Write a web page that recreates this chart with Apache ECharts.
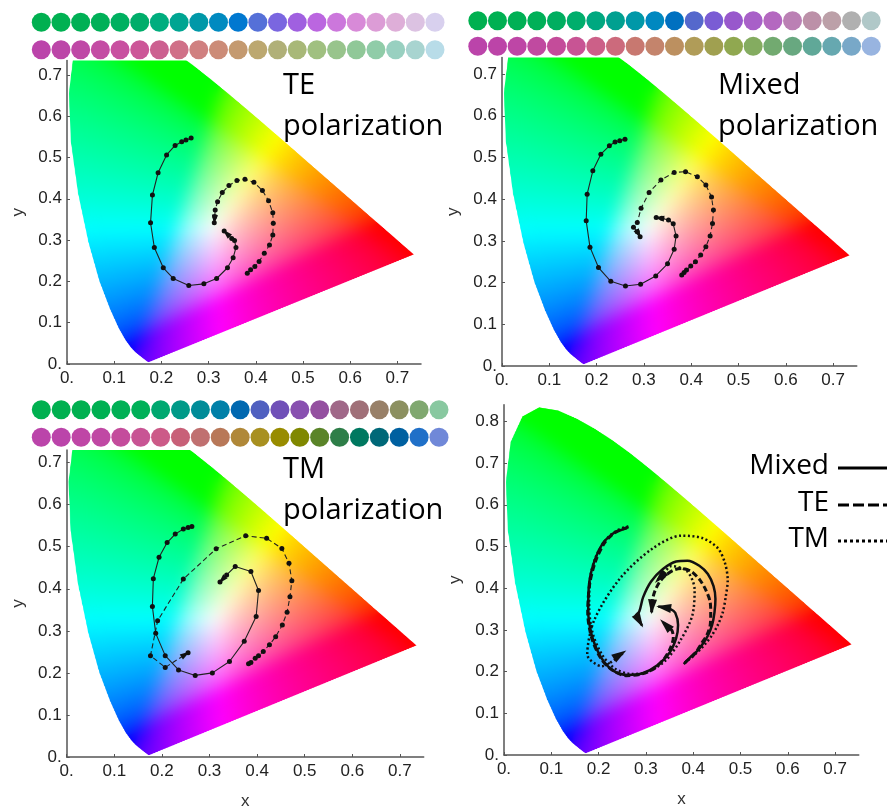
<!DOCTYPE html>
<html><head><meta charset="utf-8">
<script src="https://cdn.jsdelivr.net/npm/echarts@6/dist/echarts.min.js"></script>
<style>html,body{margin:0;padding:0;background:#fff}#c{width:891px;height:811px}</style>
</head><body><div id="c"></div>
<script>
// CIE 1931 2-degree spectral locus (x, y), 380-700 nm
const spectralLocus = [
[0.1741,0.0050],[0.1740,0.0050],[0.1738,0.0049],[0.1736,0.0049],[0.1733,0.0048],[0.1730,0.0048],
[0.1726,0.0048],[0.1721,0.0048],[0.1714,0.0051],[0.1703,0.0058],[0.1689,0.0069],[0.1669,0.0086],
[0.1644,0.0109],[0.1611,0.0138],[0.1566,0.0177],[0.1510,0.0227],[0.1440,0.0297],[0.1355,0.0399],
[0.1241,0.0578],[0.1096,0.0868],[0.0913,0.1327],[0.0687,0.2007],[0.0454,0.2950],[0.0235,0.4127],
[0.0082,0.5384],[0.0039,0.6548],[0.0139,0.7502],[0.0389,0.8120],[0.0743,0.8338],[0.1142,0.8262],
[0.1547,0.8059],[0.1929,0.7816],[0.2296,0.7543],[0.2658,0.7243],[0.3016,0.6923],[0.3373,0.6589],
[0.3731,0.6245],[0.4087,0.5896],[0.4441,0.5547],[0.4788,0.5202],[0.5125,0.4866],[0.5448,0.4544],
[0.5752,0.4242],[0.6029,0.3965],[0.6270,0.3725],[0.6482,0.3514],[0.6658,0.3340],[0.6801,0.3197],
[0.6915,0.3083],[0.7006,0.2993],[0.7079,0.2920],[0.7140,0.2859],[0.7190,0.2809],[0.7230,0.2770],
[0.7260,0.2740],[0.7300,0.2700],[0.7334,0.2666],[0.7347,0.2653]
];

// TE polarization
const teSolid = [[0.263,0.547],[0.252,0.542],[0.243,0.538],[0.229,0.529],[0.211,0.506],[0.193,0.463],[0.181,0.409],[0.177,0.342],[0.185,0.282],[0.204,0.233],[0.225,0.207],[0.258,0.190],[0.290,0.194],[0.317,0.207],[0.340,0.233],[0.352,0.257],[0.358,0.282],[0.355,0.299],[0.349,0.304],[0.333,0.322]];
const teDashed = [[0.382,0.220],[0.389,0.228],[0.398,0.236],[0.407,0.248],[0.418,0.268],[0.429,0.288],[0.436,0.312],[0.437,0.341],[0.436,0.366],[0.427,0.395],[0.414,0.420],[0.396,0.440],[0.377,0.447],[0.360,0.444],[0.343,0.432],[0.329,0.415],[0.319,0.393],[0.314,0.373],[0.313,0.357],[0.312,0.342]];
// Mixed polarization
const mixedSolid = [[0.260,0.544],[0.249,0.540],[0.239,0.537],[0.227,0.528],[0.209,0.508],[0.192,0.468],[0.180,0.412],[0.178,0.348],[0.186,0.285],[0.204,0.236],[0.230,0.203],[0.261,0.192],[0.293,0.196],[0.325,0.216],[0.350,0.245],[0.364,0.280],[0.368,0.312],[0.362,0.341],[0.352,0.350],[0.338,0.354],[0.326,0.356]];
const mixedDashed = [[0.380,0.218],[0.385,0.224],[0.390,0.230],[0.399,0.240],[0.409,0.250],[0.420,0.266],[0.431,0.286],[0.440,0.312],[0.445,0.342],[0.447,0.374],[0.443,0.405],[0.431,0.434],[0.413,0.454],[0.388,0.466],[0.364,0.464],[0.336,0.446],[0.311,0.416],[0.294,0.378],[0.286,0.344],[0.278,0.333],[0.286,0.322],[0.292,0.310]];
// TM polarization
const tmSolid = [[0.263,0.548],[0.255,0.546],[0.245,0.542],[0.228,0.530],[0.211,0.510],[0.194,0.475],[0.182,0.424],[0.180,0.358],[0.187,0.294],[0.207,0.241],[0.235,0.207],[0.270,0.194],[0.306,0.200],[0.342,0.227],[0.373,0.275],[0.398,0.334],[0.403,0.396],[0.387,0.441],[0.354,0.453],[0.336,0.433],[0.322,0.416]];
const tmDashed = [[0.382,0.222],[0.387,0.225],[0.396,0.235],[0.403,0.241],[0.413,0.251],[0.426,0.267],[0.439,0.286],[0.453,0.314],[0.463,0.344],[0.469,0.381],[0.473,0.419],[0.467,0.461],[0.452,0.496],[0.420,0.520],[0.376,0.526],[0.314,0.495],[0.245,0.423],[0.191,0.324],[0.176,0.241],[0.207,0.213],[0.255,0.248]];

// Colour swatches
const swatchTE1 = ['#00b050','#00b152','#00b055','#00b058','#00b060','#00ad6a','#00ad7e','#00a592','#0098a8','#008ac0','#0078d0','#5570d8','#7a66e0','#a060e0','#bb66e0','#cc77dc','#d88ad8','#dc9cd6','#deaed8','#dcc2e2','#d8d0ee'];
const swatchTE2 = ['#bb44aa','#bc46a8','#bf48a6','#c44ca4','#c850a0','#cc5698','#cc6090','#d07088','#d08080','#cc8c78','#c49a70','#bca870','#b0b078','#a8b878','#a0c080','#98c48c','#90c898','#90cca8','#98d0c0','#a8d4d0','#b8dce8'];
const swatchMixed1 = ['#00b050','#00b052','#00b055','#00b058','#00ae60','#00ae6c','#00a880','#00a090','#0098a8','#0088c0','#0070c0','#5568cc','#7a5cd4','#9858cc','#a860c8','#b468c0','#bb80b4','#bc90a8','#bca0a8','#b0b0b0','#b0c8c8'];
const swatchMixed2 = ['#bb44aa','#bc44a8','#be46a6','#c04aa0','#c44c9a','#c85494','#cc6088','#cc6a7c','#c87870','#c4846c','#bc9060','#b09c58','#a0a050','#90a850','#84ac60','#72aa70','#68a880','#60a898','#66a8b0','#78a8c8','#98b4e0'];
const swatchTM1 = ['#00b050','#00b050','#00b050','#00b052','#00b055','#00b058','#00a870','#009a88','#008c98','#0080a8','#0068b0','#5060c0','#7050b8','#8850b0','#9450a0','#a06888','#a07078','#988068','#8c9060','#80a870','#88c8a0'];
const swatchTM2 = ['#bb44aa','#bb44aa','#bf46a6','#c048a4','#c44c9c','#c85494','#cc5a88','#c86078','#c07070','#b87858','#b08838','#a89020','#988c00','#808800','#5a8428','#2e7e48','#007860','#006878','#0060a0','#2070c8','#7088d8'];

const panelTitles = ['TE\npolarization','Mixed\npolarization','TM\npolarization'];
const legendNames = ['Mixed','TE','TM'];

// ---- gamut image (colour of each chromaticity) ----
const GX = 0.75, GY = 0.85;
function lin2srgb(c){ return c <= 0.0031308 ? 12.92*c : 1.055*Math.pow(c,1/2.4)-0.055; }
function buildGamut(){
  const W = 600, H = 680;
  const cv = document.createElement('canvas'); cv.width = W; cv.height = H;
  const ctx = cv.getContext('2d'); const img = ctx.createImageData(W,H); const d = img.data;
  const poly = spectralLocus; const n = poly.length;
  for (let j=0;j<H;j++){
    const y = GY*(1-(j+0.5)/H);
    const xs = [];
    for (let k=0;k<n;k++){
      const p = poly[k], q = poly[(k+1)%n];
      if ((p[1] <= y && q[1] > y) || (q[1] <= y && p[1] > y)){
        xs.push(p[0] + (y-p[1])*(q[0]-p[0])/(q[1]-p[1]));
      }
    }
    xs.sort((a,b)=>a-b);
    for (let m=0;m+1<xs.length;m+=2){
      const i0 = Math.max(0, Math.floor(xs[m]/GX*W)-3), i1 = Math.min(W-1, Math.ceil(xs[m+1]/GX*W)+3);
      for (let i=i0;i<=i1;i++){
        const x = GX*(i+0.5)/W;
        const X = x/y, Y = 1, Z = (1-x-y)/y;
        let r = 3.2406*X-1.5372*Y-0.4986*Z;
        let g = -0.9689*X+1.8758*Y+0.0415*Z;
        let b = 0.0557*X-0.2040*Y+1.0570*Z;
        r=Math.max(r,0); g=Math.max(g,0); b=Math.max(b,0);
        const mx = Math.max(r,g,b)||1;
        const o = (j*W+i)*4;
        d[o] = Math.round(255*lin2srgb(r/mx));
        d[o+1] = Math.round(255*lin2srgb(g/mx));
        d[o+2] = Math.round(255*lin2srgb(b/mx));
        d[o+3] = 255;
      }
    }
  }
  ctx.putImageData(img,0,0);
  // smooth the clipping ridges, then mask with the locus
  const out = document.createElement('canvas'); out.width = W; out.height = H;
  const oc = out.getContext('2d');
  oc.drawImage(cv,0,0);
  oc.filter = 'blur(14px)';
  oc.drawImage(cv,0,0);
  oc.filter = 'none';
  oc.globalCompositeOperation = 'destination-in';
  oc.beginPath();
  poly.forEach((p,k)=>{ const px = p[0]/GX*W, py = (1-p[1]/GY)*H; if(k===0) oc.moveTo(px,py); else oc.lineTo(px,py); });
  oc.closePath(); oc.fillStyle = '#000'; oc.fill();
  return out;
}
const gamutCanvas = buildGamut();

// ---- layout ----
const panels = [
  {left:67,   top:60.4,  width:354,    height:303.6, ymax:0.735, xname:false},
  {left:502,  top:57.4,  width:354.75, height:308.6, ymax:0.74,  xname:false},
  {left:66.7, top:450,   width:357,    height:307.3, ymax:0.73,  xname:true},
  {left:504,  top:404.7, width:354.75, height:350.3, ymax:0.84,  xname:true}
];
const swatchGrids = [
  {left:41.3,  top:22.2,  width:393.7, height:27.5, rows:[swatchTE1, swatchTE2]},
  {left:477.8, top:20.8,  width:393.4, height:25.4, rows:[swatchMixed1, swatchMixed2]},
  {left:41.3,  top:409.7, width:397.7, height:27.5, rows:[swatchTM1, swatchTM2]}
];

function tickFmt(v){
  if (Math.abs(v*10 - Math.round(v*10)) > 1e-6) return '';
  return v === 0 ? '0.' : v.toFixed(1);
}
const axisFont = {fontFamily:'Liberation Sans', fontSize:17, color:'#222'};

const grid = [], xAxis = [], yAxis = [], series = [];
panels.forEach((p,k)=>{
  grid.push({left:p.left, top:p.top, width:p.width, height:p.height});
  xAxis.push({type:'value', gridIndex:k, min:0, max:0.75, interval:0.1,
    name: p.xname ? 'x' : '', nameLocation:'middle', nameGap:36,
    nameTextStyle:{fontFamily:'Liberation Sans', fontSize:17, color:'#333'},
    axisLine:{show:true, lineStyle:{color:'#555', width:1.5}},
    axisTick:{show:true, inside:true, length:3, lineStyle:{color:'#555'}},
    splitLine:{show:false},
    axisLabel:Object.assign({formatter:tickFmt, margin:6, showMaxLabel:false}, axisFont)});
  yAxis.push({type:'value', gridIndex:k, min:0, max:p.ymax, interval:0.1,
    name:'y', nameLocation:'middle', nameGap:40,
    nameTextStyle:{fontFamily:'Liberation Sans', fontSize:17, color:'#333'},
    axisLine:{show:true, lineStyle:{color:'#555', width:1.5}},
    axisTick:{show:true, inside:true, length:3, lineStyle:{color:'#555'}},
    splitLine:{show:false},
    axisLabel:Object.assign({formatter:tickFmt, margin:5, showMaxLabel:false}, axisFont)});
  // gamut background
  series.push({type:'custom', xAxisIndex:k, yAxisIndex:k, silent:true, z:1, data:[[0,0]],
    renderItem:(params, api)=>{
      const p0 = api.coord([0, GY]), p1 = api.coord([GX, 0]);
      const cs = params.coordSys;
      return {type:'image', style:{image:gamutCanvas, x:p0[0], y:p0[1], width:p1[0]-p0[0], height:p1[1]-p0[1]},
        clipPath:{type:'rect', shape:{x:cs.x, y:cs.y, width:cs.width, height:cs.height}}};
    }});
});

function arrowSeries(k, pts, L, W, color){
  const n = pts.length;
  return {type:'custom', xAxisIndex:k, yAxisIndex:k, silent:true, z:6,
    dimensions:['x1','y1','x2','y2'], encode:{x:[0,2], y:[1,3]},
    data:[[pts[n-2][0], pts[n-2][1], pts[n-1][0], pts[n-1][1]]],
    renderItem:(params, api)=>{
      const a = api.coord([api.value(0), api.value(1)]);
      const b = api.coord([api.value(2), api.value(3)]);
      let dx = b[0]-a[0], dy = b[1]-a[1]; const len = Math.hypot(dx,dy)||1; dx/=len; dy/=len;
      const tip = [b[0]+dx*2, b[1]+dy*2];
      const base = [tip[0]-dx*L, tip[1]-dy*L];
      const px = -dy, py = dx;
      return {type:'polygon', shape:{points:[tip,[base[0]+px*W/2, base[1]+py*W/2],[base[0]-px*W/2, base[1]-py*W/2]]},
        style:{fill:color}};
    }};
}

function smallLine(k, pts, dashed){
  return {type:'line', xAxisIndex:k, yAxisIndex:k, data:pts, z:5, silent:true,
    symbol:'circle', symbolSize:5, showSymbol:true, itemStyle:{color:'#111'},
    lineStyle:{color:'#222', width:1.1, type: dashed ? [5,3] : 'solid'}, animation:false};
}
[[teSolid,teDashed],[mixedSolid,mixedDashed],[tmSolid,tmDashed]].forEach((pair,k)=>{
  series.push(smallLine(k, pair[0], false));
  series.push(smallLine(k, pair[1], true));
  series.push(arrowSeries(k, pair[0], 10, 6, '#111'));
  series.push(arrowSeries(k, pair[1], 10, 6, '#111'));
});

// combined panel
function bigLine(pts, type, width){
  return {type:'line', xAxisIndex:3, yAxisIndex:3, data:pts, z:5, silent:true, smooth:0.3,
    symbol:'none', lineStyle:{color:'#111', width:width, type:type}, animation:false};
}
[[mixedSolid,'solid',2.5],[mixedDashed,'solid',2.5],[teSolid,[6,3],3],[teDashed,[6,3],3],[tmSolid,[2,2.5],2.5],[tmDashed,[2,2.5],2.5]].forEach(c=>{
  series.push(bigLine(c[0], c[1], c[2]));
  series.push(arrowSeries(3, c[0], 15, 9, '#111'));
});

// swatches
swatchGrids.forEach((s,m)=>{
  const gi = grid.length;
  grid.push({left:s.left, top:s.top, width:s.width, height:s.height});
  xAxis.push({type:'value', gridIndex:gi, min:0, max:20, show:false});
  yAxis.push({type:'value', gridIndex:gi, min:0, max:1, show:false});
  s.rows.forEach((row,r)=>{
    series.push({type:'scatter', xAxisIndex:gi, yAxisIndex:gi, silent:true, symbolSize:19,
      data: row.map((c,i)=>({value:[i, 1-r], itemStyle:{color:c, opacity:1}}))});
  });
});

const titleFont = '29px "Open Sans"';
const graphic = [
  {type:'text', left:283, top:65, style:{text:panelTitles[0], font:titleFont, fill:'#000', lineHeight:41}, z:100},
  {type:'text', left:718, top:65, style:{text:panelTitles[1], font:titleFont, fill:'#000', lineHeight:41}, z:100},
  {type:'text', left:283, top:449, style:{text:panelTitles[2], font:titleFont, fill:'#000', lineHeight:41}, z:100},
];
const legendY = [466, 503, 539];
const legendDash = [null, [11,4], [3,3]];
legendNames.forEach((nm,i)=>{
  graphic.push({type:'text', z:100, style:{text:nm, x:829, y:legendY[i], align:'right', verticalAlign:'middle', font:'28px "Open Sans"', fill:'#000'}});
  graphic.push({type:'line', z:100, shape:{x1:838, y1:legendY[i]+2, x2:887, y2:legendY[i]+2}, style:{stroke:'#000', lineWidth:3, lineDash:legendDash[i]}});
});

const chart = echarts.init(document.getElementById('c'), null, {renderer:'canvas'});
chart.setOption({animation:false, backgroundColor:'#fff', grid, xAxis, yAxis, series, graphic});
</script>
</body></html>
